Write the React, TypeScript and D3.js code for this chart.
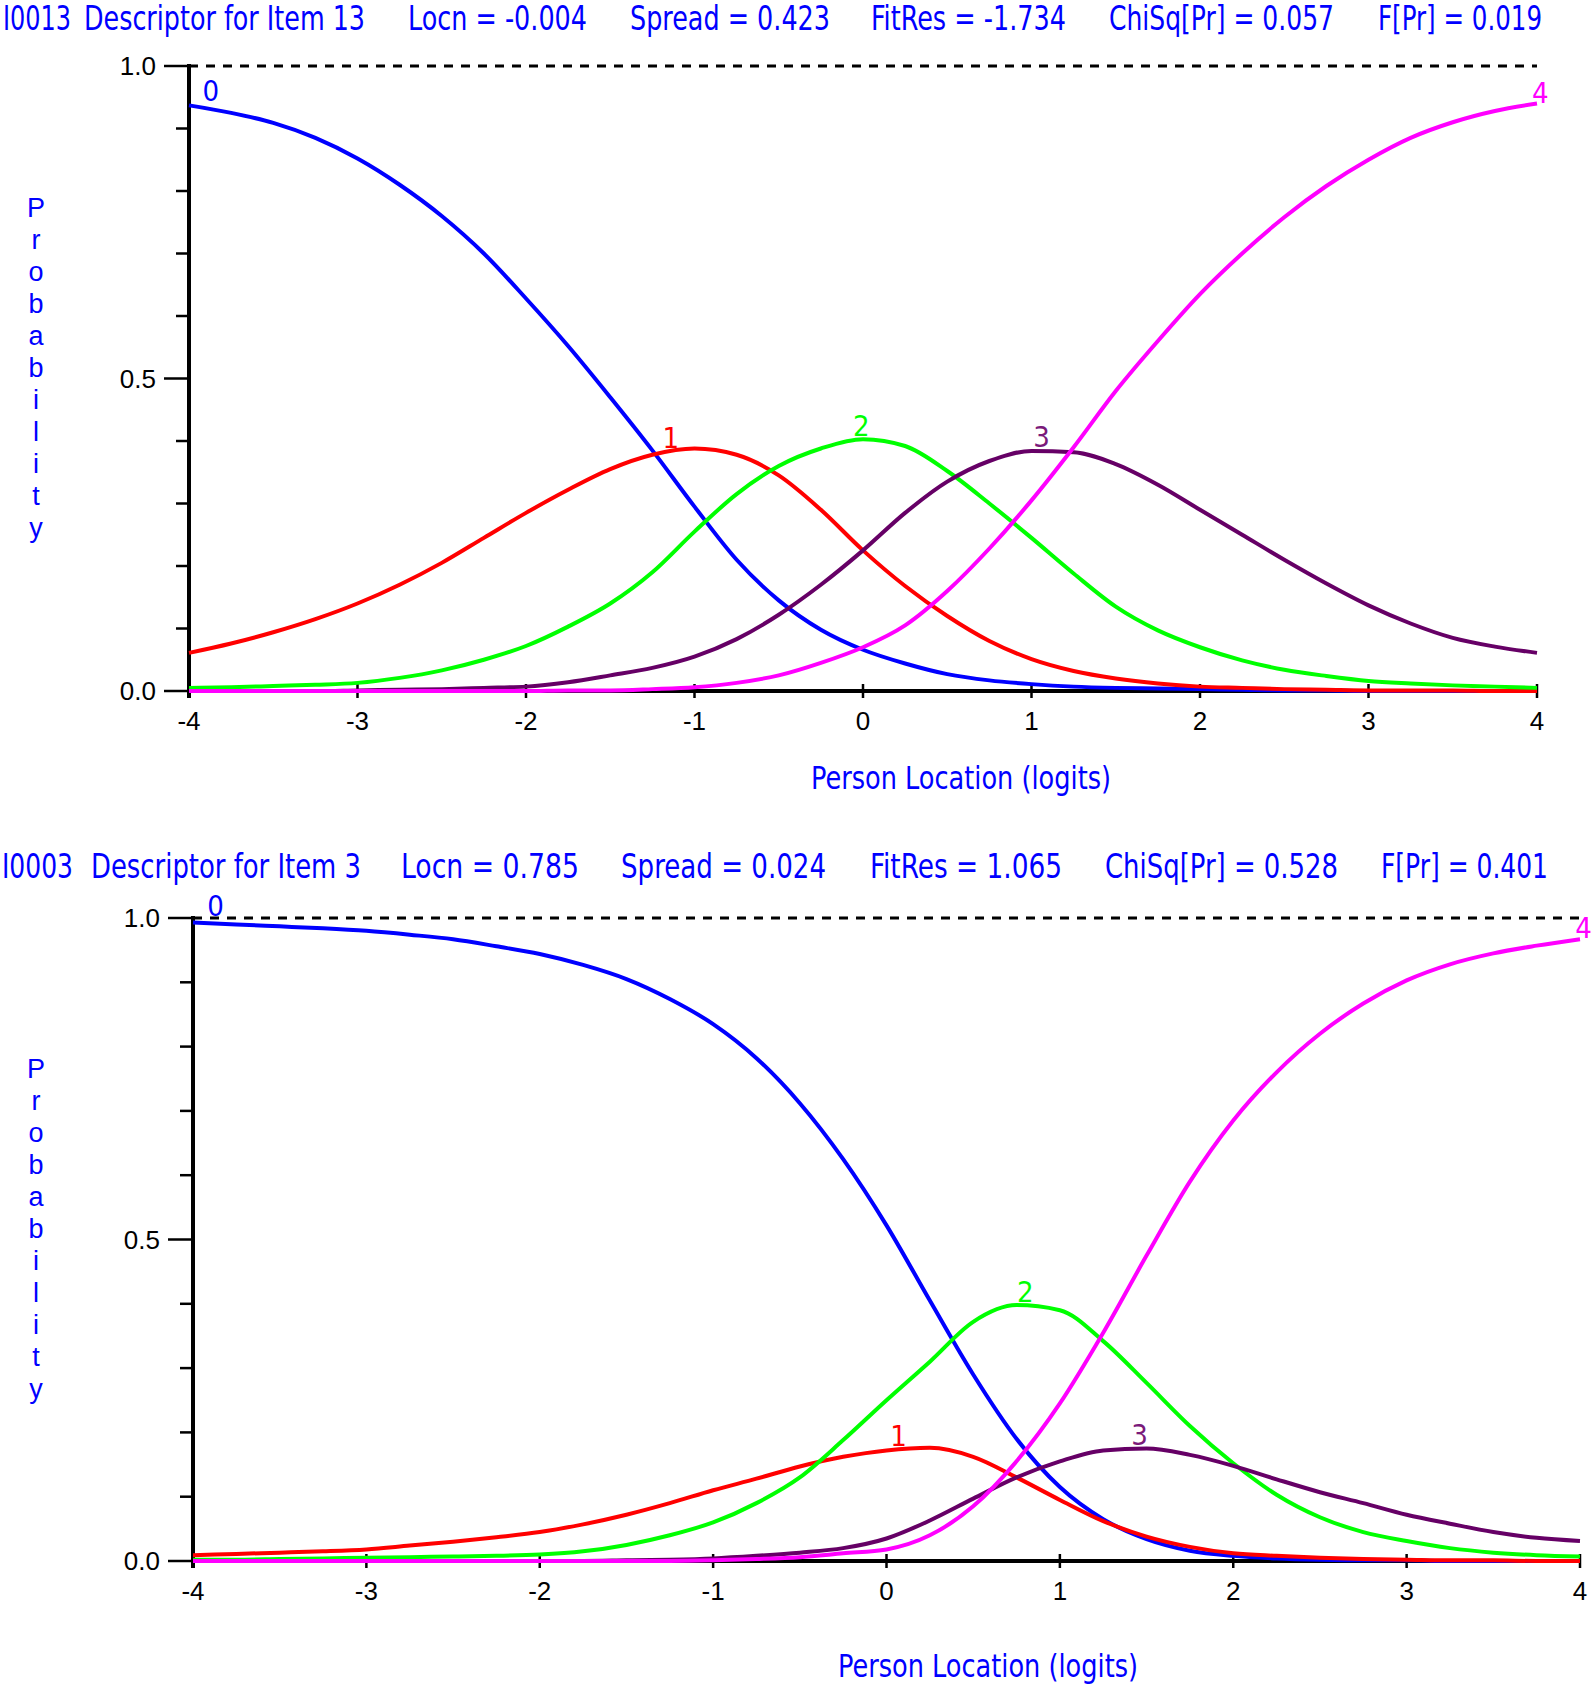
import { useEffect } from "react"
import * as d3 from "d3"

// person locations (logits) at which the curves were read
const LOGITS = [
  -4, -3.75, -3.5, -3.25, -3, -2.75, -2.5, -2.25, -2, -1.75, -1.5, -1.25, -1, -0.75, -0.5, -0.25,
  0, 0.25, 0.5, 0.75, 1, 1.25, 1.5, 1.75, 2, 2.25, 2.5, 2.75, 3, 3.25, 3.5, 3.75, 4,
]

// Item 13 category probabilities
const ITEM13_CAT0 = [0.937, 0.925, 0.909, 0.885, 0.852, 0.81, 0.76, 0.7, 0.628, 0.552, 0.47, 0.385, 0.295, 0.21, 0.145, 0.098, 0.066, 0.044, 0.027, 0.017, 0.011, 0.007, 0.005, 0.004, 0.003, 0.002, 0.001, 0.001, 0, 0, 0, 0, 0]
const ITEM13_CAT1 = [0.061, 0.076, 0.094, 0.115, 0.14, 0.17, 0.205, 0.245, 0.285, 0.322, 0.355, 0.378, 0.388, 0.378, 0.345, 0.29, 0.225, 0.168, 0.12, 0.08, 0.051, 0.032, 0.02, 0.012, 0.007, 0.005, 0.003, 0.002, 0.001, 0.001, 0.001, 0, 0]
const ITEM13_CAT2 = [0.005, 0.006, 0.008, 0.01, 0.013, 0.021, 0.033, 0.05, 0.072, 0.103, 0.14, 0.19, 0.255, 0.315, 0.36, 0.388, 0.403, 0.392, 0.352, 0.3, 0.245, 0.188, 0.135, 0.097, 0.07, 0.049, 0.034, 0.024, 0.016, 0.012, 0.009, 0.007, 0.005]
const ITEM13_CAT3 = [0, 0, 0, 0, 0.001, 0.002, 0.003, 0.005, 0.007, 0.014, 0.025, 0.037, 0.055, 0.083, 0.122, 0.17, 0.225, 0.285, 0.335, 0.368, 0.384, 0.382, 0.363, 0.33, 0.29, 0.25, 0.21, 0.172, 0.137, 0.108, 0.085, 0.071, 0.061]
const ITEM13_CAT4 = [0, 0, 0, 0, 0, 0, 0, 0, 0, 0.001, 0.001, 0.003, 0.006, 0.013, 0.025, 0.045, 0.07, 0.105, 0.16, 0.228, 0.305, 0.39, 0.48, 0.56, 0.635, 0.7, 0.758, 0.808, 0.85, 0.885, 0.91, 0.928, 0.94]

// Item 3 category probabilities
const ITEM3_CAT0 = [0.993, 0.99, 0.987, 0.984, 0.98, 0.974, 0.967, 0.956, 0.944, 0.927, 0.905, 0.874, 0.835, 0.782, 0.712, 0.625, 0.522, 0.405, 0.29, 0.19, 0.115, 0.065, 0.034, 0.016, 0.008, 0.004, 0.002, 0.001, 0.001, 0, 0, 0, 0]
const ITEM3_CAT1 = [0.009, 0.011, 0.013, 0.015, 0.018, 0.024, 0.03, 0.037, 0.045, 0.057, 0.072, 0.09, 0.11, 0.128, 0.147, 0.162, 0.172, 0.176, 0.162, 0.13, 0.095, 0.062, 0.038, 0.022, 0.012, 0.008, 0.005, 0.003, 0.002, 0.001, 0.001, 0, 0]
const ITEM3_CAT2 = [0.002, 0.002, 0.003, 0.004, 0.005, 0.006, 0.007, 0.008, 0.01, 0.015, 0.025, 0.04, 0.06, 0.09, 0.13, 0.188, 0.25, 0.31, 0.372, 0.398, 0.39, 0.342, 0.277, 0.21, 0.152, 0.103, 0.068, 0.045, 0.031, 0.02, 0.013, 0.009, 0.007]
const ITEM3_CAT3 = [0, 0, 0, 0, 0, 0, 0, 0, 0, 0, 0.001, 0.002, 0.004, 0.008, 0.013, 0.02, 0.035, 0.063, 0.097, 0.13, 0.155, 0.172, 0.175, 0.165, 0.148, 0.127, 0.107, 0.09, 0.072, 0.058, 0.045, 0.036, 0.031]
const ITEM3_CAT4 = [0, 0, 0, 0, 0, 0, 0, 0, 0, 0, 0, 0, 0.001, 0.003, 0.006, 0.012, 0.018, 0.04, 0.085, 0.155, 0.245, 0.355, 0.475, 0.59, 0.685, 0.76, 0.82, 0.867, 0.903, 0.928, 0.945, 0.957, 0.967]

// logits where the category numbers are printed
const ITEM13_LABEL_AT = [-3.87, -1.14, -0.01, 1.06, 4.02]
const ITEM3_LABEL_AT = [-3.87, 0.07, 0.8, 1.46, 4.02]

const CATEGORIES = ["0", "1", "2", "3", "4"]
const X_TICKS = [-4, -3, -2, -1, 0, 1, 2, 3, 4]
const Y_TICKS = [0, 0.1, 0.2, 0.3, 0.4, 0.5, 0.6, 0.7, 0.8, 0.9, 1]
const Y_LABELS = [0, 0.5, 1]

const ITEM13_TITLE = ["I0013", "Descriptor for Item 13", "Locn = -0.004", "Spread = 0.423", "FitRes = -1.734", "ChiSq[Pr] = 0.057", "F[Pr] = 0.019"]
const ITEM3_TITLE = ["I0003", "Descriptor for Item 3", "Locn = 0.785", "Spread = 0.024", "FitRes = 1.065", "ChiSq[Pr] = 0.528", "F[Pr] = 0.401"]

const X_TITLE = "Person Location (logits)"
const Y_TITLE = "Probability"

const LINE_COLORS = ["#0000ff", "#ff0000", "#00ff00", "#660066", "#ff00ff"]
const LABEL_COLORS = ["#0000ff", "#ff0000", "#00ff00", "#7a1a7a", "#ff00ff"]
const LABEL_LIFT = [18, 14, 14, 14, 11]
const BLUE = "#0000ff"
const NARROW = "'Liberation Sans Narrow', 'Arial Narrow', 'DejaVu Sans Condensed', sans-serif"
const SANS = "'Liberation Sans', Arial, sans-serif"

interface PanelLayout {
  left: number
  right: number
  top: number
  bottom: number
  titleY: number
  titleSpans: [number, number][]
  xTitleY: number
  xTitleSpan: [number, number]
}

interface PanelProps {
  series: number[][]
  labelAt: number[]
  title: string[]
  layout: PanelLayout
}

function Panel({ series, labelAt, title, layout }: PanelProps) {
  const x = d3.scaleLinear().domain([-4, 4]).range([layout.left, layout.right])
  const y = d3.scaleLinear().domain([0, 1]).range([layout.bottom, layout.top])

  const line = d3.line<number>()
    .x((_, i) => x(LOGITS[i]))
    .y(d => y(d))
    .curve(d3.curveMonotoneX)

  // category number sits just above its own curve
  const labelPos = series.map((s, k) => {
    const at = d3.scaleLinear().domain(LOGITS).range(s).clamp(true)
    return { cx: x(labelAt[k]), cy: y(at(labelAt[k])) - LABEL_LIFT[k] }
  })

  const yMid = (layout.top + layout.bottom) / 2

  return (
    <g>
      {/* header line */}
      {title.map((t, i) => (
        <text key={t} x={layout.titleSpans[i][0]} y={layout.titleY} textLength={layout.titleSpans[i][1] - layout.titleSpans[i][0]}
          lengthAdjust="spacingAndGlyphs" dominantBaseline="central" fontFamily={NARROW} fontSize={33} fill={BLUE}>{t}</text>
      ))}

      {/* dashed line at 1.0 */}
      <line x1={x(-4)} x2={x(4)} y1={y(1)} y2={y(1)} stroke="#000" strokeWidth={3} strokeDasharray="9 8" />

      {/* y axis */}
      <line x1={x(-4)} x2={x(-4)} y1={y(1) - 2} y2={y(0) + 7} stroke="#000" strokeWidth={4} />
      {Y_TICKS.map(t => {
        const major = Y_LABELS.some(v => Math.abs(v - t) < 1e-6)
        return (
          <line key={t} x1={x(-4) - (major ? 25 : 13)} x2={x(-4)} y1={y(t)} y2={y(t)} stroke="#000" strokeWidth={2.5} />
        )
      })}
      {Y_LABELS.map(t => (
        <text key={t} x={x(-4) - 33} y={y(t)} textAnchor="end" dominantBaseline="central" fontFamily={SANS} fontSize={26} fill="#000">{t.toFixed(1)}</text>
      ))}
      {Y_TITLE.split("").map((c, i) => (
        <text key={i} x={36} y={yMid - 171 + i * 32} textAnchor="middle" dominantBaseline="central" fontFamily={SANS} fontSize={27} fill={BLUE}>{c}</text>
      ))}

      {/* x axis */}
      <line x1={x(-4)} x2={x(4)} y1={y(0)} y2={y(0)} stroke="#000" strokeWidth={4} />
      {X_TICKS.map(t => (
        <line key={t} x1={x(t)} x2={x(t)} y1={y(0) - 7} y2={y(0) + 7} stroke="#000" strokeWidth={2.5} />
      ))}
      {X_TICKS.map(t => (
        <text key={t} x={x(t)} y={y(0) + 30} textAnchor="middle" dominantBaseline="central" fontFamily={SANS} fontSize={26} fill="#000">{t}</text>
      ))}
      <text x={layout.xTitleSpan[0]} y={layout.xTitleY} textLength={layout.xTitleSpan[1] - layout.xTitleSpan[0]} lengthAdjust="spacingAndGlyphs"
        dominantBaseline="central" fontFamily={NARROW} fontSize={32} fill={BLUE}>{X_TITLE}</text>

      {/* category curves */}
      {series.map((s, k) => (
        <path key={k} d={line(s) || ""} fill="none" stroke={LINE_COLORS[k]} strokeWidth={4} strokeLinejoin="round" />
      ))}
      {series.map((_, k) => (
        <text key={k} x={labelPos[k].cx} y={labelPos[k].cy} textAnchor="middle" dominantBaseline="central"
          fontFamily={NARROW} fontSize={29} fill={LABEL_COLORS[k]}>{CATEGORIES[k]}</text>
      ))}
    </g>
  )
}

const TOP_LAYOUT: PanelLayout = {
  left: 189, right: 1537, top: 66, bottom: 691,
  titleY: 18,
  titleSpans: [[3, 71], [84, 365], [408, 587], [630, 830], [871, 1066], [1109, 1334], [1378, 1542]],
  xTitleY: 778, xTitleSpan: [811, 1111],
}

const BOTTOM_LAYOUT: PanelLayout = {
  left: 193, right: 1580, top: 918, bottom: 1561,
  titleY: 866,
  titleSpans: [[2, 73], [91, 361], [401, 579], [621, 826], [870, 1062], [1105, 1338], [1381, 1548]],
  xTitleY: 1666, xTitleSpan: [838, 1138],
}

export default function App() {
  useEffect(() => {
    document.body.style.margin = "0"
  }, [])

  return (
    <svg width={1594} height={1688} style={{ display: "block", background: "#fff" }}>
      <rect width={1594} height={1688} fill="#fff" />
      <Panel series={[ITEM13_CAT0, ITEM13_CAT1, ITEM13_CAT2, ITEM13_CAT3, ITEM13_CAT4]} labelAt={ITEM13_LABEL_AT} title={ITEM13_TITLE} layout={TOP_LAYOUT} />
      <Panel series={[ITEM3_CAT0, ITEM3_CAT1, ITEM3_CAT2, ITEM3_CAT3, ITEM3_CAT4]} labelAt={ITEM3_LABEL_AT} title={ITEM3_TITLE} layout={BOTTOM_LAYOUT} />
    </svg>
  )
}
